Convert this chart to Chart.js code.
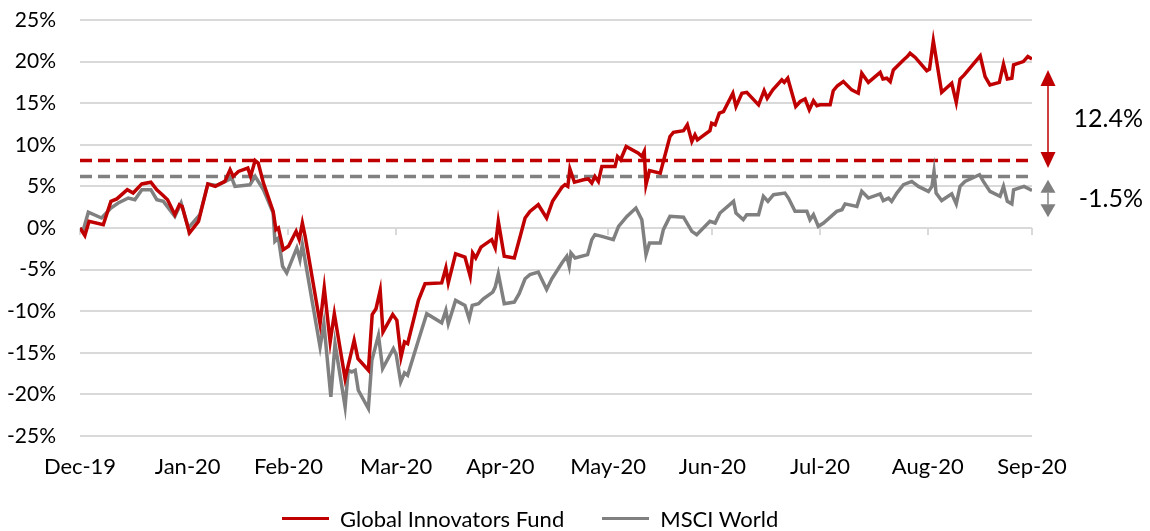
<!DOCTYPE html>
<html>
<head>
<meta charset="utf-8">
<script src="https://cdn.jsdelivr.net/npm/chart.js@4.4.0/dist/chart.umd.min.js"></script>
<style>
  html, body { margin: 0; padding: 0; background: #fff; }
  #wrap { position: relative; width: 1150px; height: 531px; }
  #legend { position: absolute; left: 282px; top: 505px; display: flex; align-items: center; font: 22px Lato, sans-serif; color: #000; }
  .item { display: flex; align-items: center; margin-right: 38px; }
  .swatch { width: 47px; height: 3px; margin-right: 11px; }
</style>
</head>
<body>
<div id="wrap">
  <canvas id="myChart" width="1150" height="531"></canvas>
  <div id="legend"></div>
</div>
<script>
// x values are days since 31-Dec-2019
const tickDays = [0, 31, 60, 91, 121, 152, 182, 213, 244, 274];
const tickLabels = ["Dec-19", "Jan-20", "Feb-20", "Mar-20", "Apr-20", "May-20", "Jun-20", "Jul-20", "Aug-20", "Sep-20"];

const fundDays = [0, 1.4, 2.6, 6.7, 8.9, 10.6, 13.6, 15.3, 17.8, 20.4, 22.1, 23.7, 25.2, 27.3, 28.6, 29.4, 31.5, 34.1, 36.8, 38.9,
  41.7, 43.2, 44.1, 45.6, 48.3, 49.1, 50.4, 51.3, 52.8, 55.6, 56.4, 57.1, 58.5, 60.0, 62.2, 63.1, 64.0, 64.8, 69.1, 70.3,
  72.0, 73.2, 76.3, 78.9, 80.0, 83.0, 84.1, 85.2, 86.4, 87.2, 90.0, 91.2, 92.4, 93.4, 94.3, 97.4, 99.3, 104.1, 105.3, 106.0,
  108.1, 110.8, 112.3, 113.0, 113.9, 115.4, 118.5, 119.5, 120.4, 122.1, 125.0, 126.7, 128.1, 129.5, 131.9, 134.3, 136.0, 138.7, 139.6, 140.4,
  141.0, 142.3, 144.9, 146.3, 147.3, 148.2, 149.2, 150.2, 154.0, 154.7, 155.6, 157.2, 160.7, 161.7, 162.4, 162.9, 163.9, 167.0, 169.8, 170.8,
  173.7, 174.8, 176.1, 177.0, 177.7, 181.3, 181.8, 182.8, 184.0, 185.2, 187.9, 188.8, 190.5, 191.9, 195.3, 196.9, 197.8, 199.4, 202.0, 202.7,
  203.7, 206.0, 207.3, 208.7, 209.9, 211.1, 212.1, 213.0, 215.9, 216.8, 218.0, 219.7, 222.1, 224.0, 225.0, 226.9, 230.3, 231.1, 232.2, 233.2,
  234.1, 237.0, 238.1, 238.9, 240.4, 243.7, 244.5, 245.6, 248.0, 250.9, 252.2, 253.3, 254.5, 259.1, 260.5, 261.9, 264.6, 265.8, 266.9, 268.2,
  268.7, 271.5, 272.8, 274.0];
const fundValues = [0, -0.9, 0.8, 0.4, 3.2, 3.5, 4.6, 4.2, 5.3, 5.5, 4.6, 4.0, 3.4, 1.6, 2.8, 2.6, -0.6, 0.8, 5.3, 5.0,
  5.6, 7.0, 6.2, 6.8, 7.2, 6.2, 8.1, 7.8, 5.4, 2.0, -0.2, 0, -2.6, -2.2, -0.4, -1.4, 0.6, -1.0, -11.5, -7.2,
  -13.7, -10.3, -18.1, -13.5, -15.7, -17.1, -10.4, -9.7, -7.5, -12.5, -10.4, -11.1, -15.5, -13.7, -13.9, -8.7, -6.7, -6.6, -4.8, -6.6,
  -3.1, -3.5, -5.8, -3.0, -3.6, -2.3, -1.4, -2.4, 0.8, -3.4, -3.6, -1.0, 1.2, 2.0, 2.8, 1.2, 3.2, 4.9, 5.2, 5.0,
  7.1, 5.5, 5.8, 5.9, 5.4, 6.2, 5.6, 7.4, 7.4, 8.6, 8.2, 9.8, 9.0, 8.6, 9.2, 5.2, 6.9, 6.6, 11.0, 11.5,
  11.7, 12.4, 10.4, 11.2, 10.6, 11.7, 12.6, 12.4, 13.8, 14.0, 16.2, 14.6, 16.2, 16.3, 14.8, 16.5, 15.6, 16.6, 17.8, 17.5,
  18.0, 14.6, 15.2, 15.5, 14.2, 15.3, 14.7, 14.8, 14.8, 16.5, 17.1, 17.6, 16.6, 16.2, 18.6, 17.5, 18.7, 17.9, 18.0, 17.6,
  19.0, 20.2, 20.6, 21.0, 20.5, 18.9, 19.1, 22.5, 16.3, 17.4, 15.1, 17.9, 18.4, 20.7, 18.2, 17.2, 17.5, 19.7, 17.9, 18.0,
  19.6, 20.0, 20.6, 20.3];

const msciDays = [0, 0.9, 2.4, 6.2, 8.9, 11.0, 13.9, 15.8, 17.8, 20.4, 22.1, 24.0, 27.3, 29.1, 31.2, 34.5, 36.8, 39.3, 43.7, 44.6,
  48.9, 50.4, 52.8, 54.2, 55.6, 56.1, 57.1, 58.3, 59.5, 62.4, 63.3, 64.0, 69.1, 70.2, 72.2, 73.4, 76.3, 77.2, 78.2, 79.2,
  80.1, 83.0, 84.0, 85.9, 87.1, 90.2, 91.0, 92.3, 93.4, 94.3, 97.4, 99.8, 104.1, 105.3, 106.0, 108.1, 110.8, 112.0, 112.9, 114.7,
  116.1, 118.8, 119.5, 120.4, 122.1, 125.0, 126.4, 128.1, 129.5, 131.9, 134.3, 135.8, 138.7, 140.1, 140.8, 141.3, 142.5, 146.1, 147.3, 148.2,
  150.2, 153.5, 155.0, 157.4, 160.0, 161.7, 162.9, 163.9, 167.0, 167.9, 169.8, 173.7, 176.1, 177.5, 181.3, 182.8, 184.2, 188.1, 188.8, 190.9,
  191.9, 195.3, 196.7, 198.0, 199.6, 202.9, 203.9, 205.8, 209.2, 210.1, 211.1, 212.5, 214.0, 217.8, 219.3, 220.2, 223.6, 225.0, 226.9, 230.3,
  231.2, 232.7, 233.6, 235.1, 237.0, 239.4, 241.3, 244.2, 245.2, 245.8, 246.4, 248.0, 250.9, 252.2, 253.3, 254.7, 258.9, 260.0, 261.9, 264.8,
  265.8, 266.9, 268.2, 268.7, 271.7, 274.0];
const msciValues = [0, -0.3, 1.9, 1.2, 2.4, 3.0, 3.6, 3.4, 4.6, 4.6, 3.4, 3.2, 1.4, 3.0, 0, 1.6, 5.3, 5.1, 6.0, 5.0,
  5.2, 6.2, 4.6, 3.2, 1.8, -1.6, -1.2, -4.6, -5.4, -2.4, -3.8, -2.0, -14.3, -11.5, -20.3, -13.9, -21.5, -17.1, -17.3, -17.1,
  -19.5, -21.7, -15.9, -12.9, -16.9, -14.5, -15.2, -18.5, -17.4, -17.7, -13.5, -10.3, -11.4, -9.9, -11.5, -8.7, -9.3, -10.9, -9.3, -9.1,
  -8.5, -7.7, -7.1, -5.5, -9.1, -8.9, -7.9, -6.1, -5.6, -5.3, -7.4, -6.1, -4.2, -3.4, -4.6, -3.0, -3.6, -3.2, -1.4, -0.8,
  -1.0, -1.4, 0.2, 1.4, 2.4, 1.0, -3.2, -1.8, -1.8, -0.2, 1.4, 1.3, -0.4, -0.8, 0.8, 0.6, 1.8, 3.2, 1.8, 1.0,
  1.6, 1.6, 3.8, 3.2, 4.0, 4.2, 3.6, 2.0, 2.0, 1.0, 1.6, 0.2, 0.6, 2.0, 2.2, 2.9, 2.6, 4.4, 3.6, 4.1,
  3.3, 3.6, 3.2, 4.2, 5.2, 5.6, 5.0, 4.4, 5.0, 6.8, 4.2, 3.3, 4.1, 2.9, 5.0, 5.6, 6.4, 5.6, 4.4, 3.8,
  5.0, 3.2, 2.9, 4.6, 5.0, 4.5];

// previous peaks (dashed lines) and the gap arrows on the right
const fundPeak = 8.1;
const msciPeak = 6.2;
const redArrow = [19.0, 7.2];
const grayArrow = [5.8, 1.3];
const redLabel = "12.4%";
const grayLabel = "-1.5%";

const RED = "#C00000";
const GREY = "#808080";

const toPoints = (xs, ys) => xs.map((d, i) => ({ x: d, y: ys[i] }));

function drawArrow(ctx, x, yTop, yBottom, color, headH, headW, shaftW) {
  ctx.fillStyle = color;
  ctx.strokeStyle = color;
  ctx.lineWidth = shaftW;
  ctx.beginPath();
  ctx.moveTo(x, yTop + headH);
  ctx.lineTo(x, yBottom - headH);
  ctx.stroke();
  ctx.beginPath();
  ctx.moveTo(x, yTop);
  ctx.lineTo(x - headW / 2, yTop + headH);
  ctx.lineTo(x + headW / 2, yTop + headH);
  ctx.closePath();
  ctx.fill();
  ctx.beginPath();
  ctx.moveTo(x, yBottom);
  ctx.lineTo(x - headW / 2, yBottom - headH);
  ctx.lineTo(x + headW / 2, yBottom - headH);
  ctx.closePath();
  ctx.fill();
}

const extras = {
  id: "extras",
  beforeDatasetsDraw(chart) {
    const ctx = chart.ctx;
    const xs = chart.scales.x, ys = chart.scales.y;
    const y0 = ys.getPixelForValue(0);
    ctx.save();
    ctx.strokeStyle = "#d9d9d9";
    ctx.lineWidth = 2;
    tickDays.forEach(d => {
      const px = Math.round(xs.getPixelForValue(d));
      ctx.beginPath();
      ctx.moveTo(px, y0);
      ctx.lineTo(px, y0 + 7);
      ctx.stroke();
    });
    ctx.restore();
  },
  afterDraw(chart) {
    const ctx = chart.ctx;
    const ys = chart.scales.y;
    const ax = chart.chartArea.right + 16;
    const rTop = ys.getPixelForValue(redArrow[0]), rBot = ys.getPixelForValue(redArrow[1]);
    const gTop = ys.getPixelForValue(grayArrow[0]), gBot = ys.getPixelForValue(grayArrow[1]);
    ctx.save();
    drawArrow(ctx, ax, rTop, rBot, RED, 16, 15, 1.5);
    drawArrow(ctx, ax, gTop, gBot, GREY, 13, 15, 1.5);
    ctx.fillStyle = "#000";
    ctx.font = "25px Lato";
    ctx.textAlign = "right";
    ctx.textBaseline = "middle";
    ctx.fillText(redLabel, chart.chartArea.right + 111, (rTop + rBot) / 2);
    ctx.fillText(grayLabel, chart.chartArea.right + 111, (gTop + gBot) / 2);
    ctx.restore();
  }
};

const ctx = document.getElementById("myChart").getContext("2d");
const chart = new Chart(ctx, {
  type: "line",
  data: {
    datasets: [
      { label: "Global Innovators Fund", data: toPoints(fundDays, fundValues), borderColor: RED, backgroundColor: RED, borderWidth: 3.5, pointRadius: 0, tension: 0, order: 0 },
      { label: "MSCI World", data: toPoints(msciDays, msciValues), borderColor: GREY, backgroundColor: GREY, borderWidth: 3.5, pointRadius: 0, tension: 0, order: 1 },
      { label: "fund peak", data: [{ x: 0, y: fundPeak }, { x: 274, y: fundPeak }], borderColor: RED, borderWidth: 3.5, borderDash: [12, 6], pointRadius: 0, order: 2 },
      { label: "msci peak", data: [{ x: 0, y: msciPeak }, { x: 274, y: msciPeak }], borderColor: GREY, borderWidth: 3.5, borderDash: [12, 6], pointRadius: 0, order: 3 }
    ]
  },
  options: {
    responsive: false,
    animation: false,
    devicePixelRatio: 1,
    layout: { padding: { top: 20, right: 118, left: 0, bottom: 0 } },
    plugins: {
      legend: { display: false },
      tooltip: { enabled: false }
    },
    scales: {
      x: {
        type: "linear",
        min: 0,
        max: 274,
        afterBuildTicks: (scale) => { scale.ticks = tickDays.map(v => ({ value: v })); },
        afterFit: (scale) => { scale.height = 95; },
        grid: { display: false },
        border: { display: false },
        ticks: {
          autoSkip: false,
          maxRotation: 0,
          padding: 10,
          color: "#000",
          font: { family: "Lato", size: 22 },
          callback: (v) => tickLabels[tickDays.indexOf(v)]
        }
      },
      y: {
        min: -25,
        max: 25,
        // fixed width; tick padding should not push the plot top down
        afterFit: (scale) => { scale.width = 80; scale.paddingTop = 0; scale.paddingBottom = 0; },
        grid: { color: "#d9d9d9", lineWidth: 2, drawTicks: false },
        border: { display: false },
        ticks: {
          stepSize: 5,
          padding: 24,
          color: "#000",
          font: { family: "Lato", size: 21 },
          callback: (v) => v + "%"
        }
      }
    }
  },
  plugins: [extras]
});

// simple html legend for the two series
const legendEl = document.getElementById("legend");
chart.data.datasets.slice(0, 2).forEach(ds => {
  const item = document.createElement("div");
  item.className = "item";
  const sw = document.createElement("span");
  sw.className = "swatch";
  sw.style.background = ds.borderColor;
  const txt = document.createElement("span");
  txt.textContent = ds.label;
  item.appendChild(sw);
  item.appendChild(txt);
  legendEl.appendChild(item);
});
</script>
</body>
</html>
